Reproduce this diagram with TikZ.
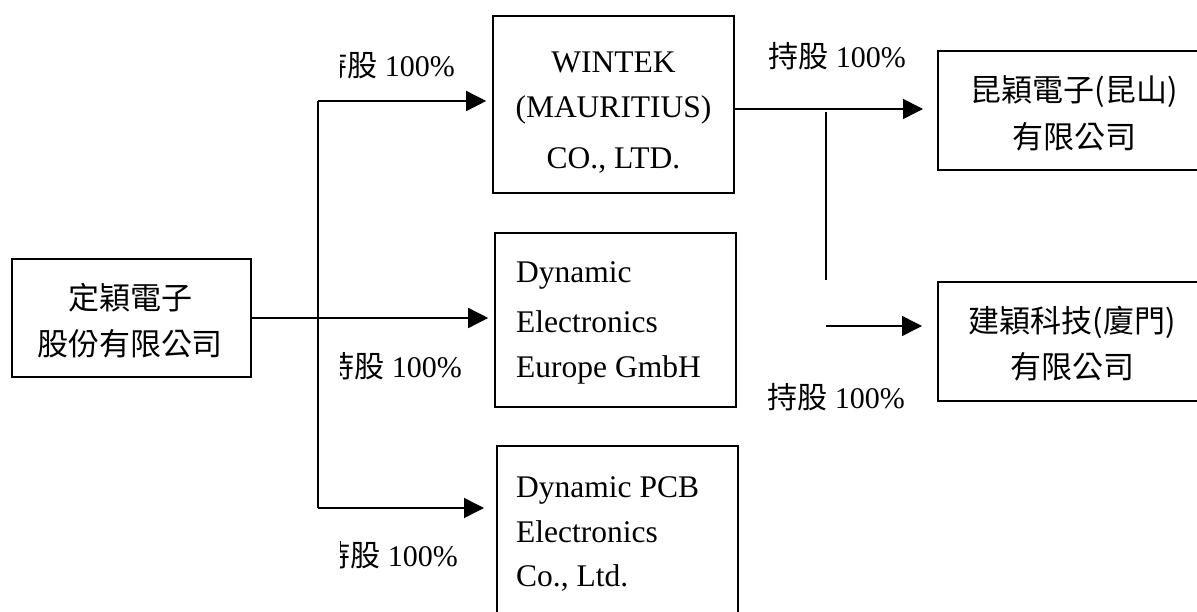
\documentclass[tikz,border=0pt]{standalone}
\usepackage{fontspec}
\setmainfont{Liberation Serif}
\newfontfamily\cjk{Noto Sans CJK TC}
\usetikzlibrary{arrows.meta}
\tikzset{
  box/.style={draw, line width=1.6pt, rectangle, inner sep=0pt},
  txt/.style={inner sep=0pt, font=\fontsize{31.5}{47}\selectfont},
  ctxt/.style={inner sep=0pt, font=\fontsize{31}{46}\selectfont\cjk},
  lab/.style={inner sep=0pt, font=\fontsize{30}{36}\selectfont},
  conn/.style={line width=1.5pt},
  arr/.style={line width=1.5pt, -{Triangle[length=20pt,width=20pt]}}
}
\begin{document}
\begin{tikzpicture}[x=1pt,y=-1pt]
\useasboundingbox (0,0) rectangle (1197,612);
\fill[white] (0,0) rectangle (1197,612);
% boxes
\node[box, minimum width=239pt, minimum height=118pt] (L) at (131.5,318) {};
\node[box, minimum width=241pt, minimum height=177pt] (W) at (613.5,104.5) {};
\node[box, minimum width=241pt, minimum height=174pt] (M) at (615.5,320) {};
\node[box, minimum width=241pt, minimum height=200pt, anchor=north west] (B) at (496,445) {};
\node[box, minimum width=270pt, minimum height=119pt, anchor=north west] (R1) at (937,50) {};
\node[box, minimum width=270pt, minimum height=119pt, anchor=north west] (R2) at (937,281) {};
% box texts
\node[ctxt] (l1) at (130,298) {定穎電子};
\node[ctxt] (l2) at (130,344) {股份有限公司};
\node[txt] (w1) at (613.5,62) {WINTEK};
\node[txt] (w2) at (613.5,110) {(MAURITIUS)};
\node[txt] (w3) at (613.5,160) {CO., LTD.};
\node[txt, anchor=west] (m1) at (516,275) {Dynamic};
\node[txt, anchor=west] (m2) at (516,322) {Electronics};
\node[txt, anchor=west] (m3) at (516,370) {Europe GmbH};
\node[txt, anchor=west] (b1) at (516,490) {Dynamic PCB};
\node[txt, anchor=west] (b2) at (516,532) {Electronics};
\node[txt, anchor=west] (b3) at (516,578) {Co., Ltd.};
\node[ctxt] (r11) at (1074,92) {昆穎電子(昆山)};
\node[ctxt] (r12) at (1074,137) {有限公司};
\node[ctxt] (r21) at (1072,322) {建穎科技(廈門)};
\node[ctxt] (r22) at (1072,367) {有限公司};
% labels
\begin{scope}
\clip (340,0) rectangle (1197,612);
\node[lab, anchor=east] (p1) at (455,65) {{\cjk 持股} 100\%};
\node[lab, anchor=east] (p2) at (462,366) {{\cjk 持股} 100\%};
\node[lab, anchor=east] (p3) at (458,555) {{\cjk 持股} 100\%};
\end{scope}
\node[lab] (p4) at (837,56) {{\cjk 持股} 100\%};
\node[lab] (p5) at (836,397) {{\cjk 持股} 100\%};
% connectors
\coordinate (t1) at (318,101);
\coordinate (t2) at (318,508);
\coordinate (we) at (734,109);
\coordinate (v1) at (826,112);
\coordinate (v2) at (826,280);
\coordinate (v3) at (826,326);
\draw[conn] (t1) -- (t2);
\draw[arr, shorten >=6pt] (L.east) -- (L.east -| M.west);
\draw[arr, shorten >=6pt] (t1) -- (t1 -| W.west);
\draw[arr, shorten >=12pt] (t2) -- (t2 -| B.west);
\draw[arr, shorten >=14pt] (we) -- (we -| R1.west);
\draw[conn] (v1) -- (v2);
\draw[arr, shorten >=15pt] (v3) -- (v3 -| R2.west);
\end{tikzpicture}
\end{document}
